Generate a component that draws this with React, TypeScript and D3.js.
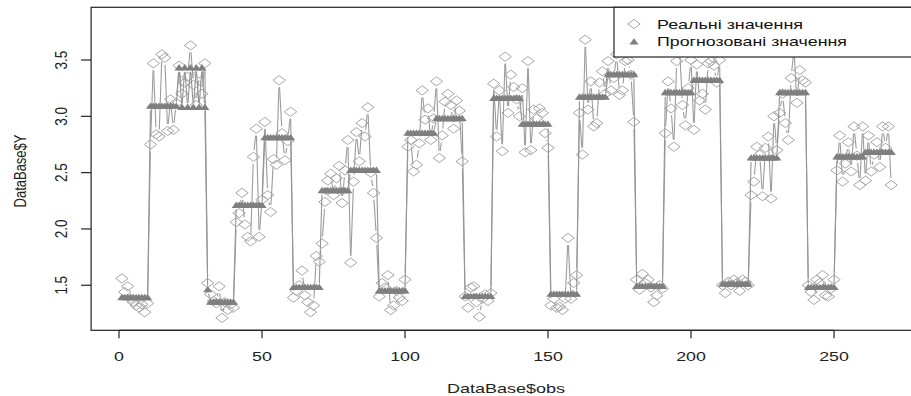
import React from "react";
import * as d3 from "d3";

// Observed values (DataBase$Y), 27 groups of 10 observations
const realValues: number[] = [
  1.56, 1.44, 1.49, 1.38, 1.35, 1.32, 1.30, 1.33, 1.26, 1.34,
  2.75, 3.47, 2.84, 2.82, 3.55, 3.52, 2.87, 3.15, 2.88, 3.12,
  3.45, 3.20, 3.30, 3.35, 3.63, 3.28, 3.10, 3.38, 3.20, 3.47,
  1.52, 1.42, 1.36, 1.34, 1.49, 1.21, 1.35, 1.28, 1.33, 1.30,
  2.06, 2.14, 2.32, 2.04, 1.93, 1.89, 2.64, 2.89, 1.93, 2.26,
  2.95, 2.30, 2.15, 2.62, 2.57, 3.32, 2.85, 2.61, 2.78, 3.04,
  1.39, 1.45, 1.50, 1.63, 1.41, 1.35, 1.26, 1.32, 1.76, 1.71,
  1.87, 2.24, 2.43, 2.49, 2.30, 2.45, 2.56, 2.23, 2.52, 2.79,
  1.70, 2.42, 2.86, 2.60, 2.94, 2.82, 3.08, 2.50, 2.32, 1.92,
  1.40, 1.52, 1.48, 1.59, 1.28, 1.32, 1.45, 1.39, 1.36, 1.55,
  2.73, 2.79, 2.51, 2.57, 2.76, 3.23, 2.97, 3.07, 2.79, 2.98,
  3.31, 2.63, 2.83, 3.13, 3.20, 3.10, 2.89, 3.14, 3.05, 2.60,
  1.40, 1.30, 1.48, 1.49, 1.35, 1.22, 1.38, 1.42, 1.36, 1.43,
  3.29, 2.82, 3.23, 2.69, 3.53, 3.03, 3.37, 3.26, 3.15, 3.00,
  3.25, 2.68, 3.49, 2.70, 3.06, 2.98, 3.07, 3.03, 2.85, 2.72,
  1.32, 1.38, 1.30, 1.31, 1.28, 1.38, 1.92, 1.38, 1.52, 1.59,
  3.03, 2.66, 3.68, 3.06, 3.31, 2.91, 2.94, 3.30, 3.40, 3.20,
  3.49, 3.23, 3.34, 3.55, 3.19, 3.23, 3.49, 3.50, 3.37, 2.95,
  1.55, 1.46, 1.60, 1.52, 1.55, 1.48, 1.35, 1.41, 1.50, 1.47,
  2.85, 3.31, 3.07, 2.73, 3.49, 3.60, 3.10, 2.92, 3.25, 3.50,
  2.88, 3.46, 3.14, 3.20, 3.06, 3.47, 3.49, 3.45, 3.30, 3.50,
  1.50, 1.43, 1.53, 1.50, 1.55, 1.52, 1.45, 1.55, 1.53, 1.50,
  2.30, 2.42, 2.73, 2.66, 2.29, 2.72, 2.82, 2.27, 3.00, 2.70,
  3.03, 3.20, 2.94, 2.79, 3.34, 3.60, 3.12, 3.41, 3.32, 3.30,
  1.50, 1.44, 1.37, 1.55, 1.52, 1.59, 1.41, 1.40, 1.47, 1.55,
  2.52, 2.83, 2.42, 2.58, 2.77, 2.51, 2.91, 2.65, 2.39, 2.91,
  2.43, 2.83, 2.51, 2.66, 2.77, 2.55, 2.91, 2.72, 2.91, 2.39,
];

// Predicted values
const predictedValues: number[] = [
  1.39, 1.39, 1.39, 1.39, 1.39, 1.39, 1.39, 1.39, 1.39, 1.39,
  3.09, 3.09, 3.09, 3.09, 3.09, 3.09, 3.09, 3.09, 3.09, 3.09,
  3.43, 3.08, 3.43, 3.08, 3.43, 3.08, 3.43, 3.08, 3.43, 3.08,
  1.46, 1.35, 1.35, 1.35, 1.35, 1.35, 1.35, 1.35, 1.35, 1.35,
  2.21, 2.21, 2.21, 2.21, 2.21, 2.21, 2.21, 2.21, 2.21, 2.21,
  2.81, 2.81, 2.81, 2.81, 2.81, 2.81, 2.81, 2.81, 2.81, 2.81,
  1.48, 1.48, 1.48, 1.48, 1.48, 1.48, 1.48, 1.48, 1.48, 1.48,
  2.34, 2.34, 2.34, 2.34, 2.34, 2.34, 2.34, 2.34, 2.34, 2.34,
  2.52, 2.52, 2.52, 2.52, 2.52, 2.52, 2.52, 2.52, 2.52, 2.52,
  1.45, 1.45, 1.45, 1.45, 1.45, 1.45, 1.45, 1.45, 1.45, 1.45,
  2.85, 2.85, 2.85, 2.85, 2.85, 2.85, 2.85, 2.85, 2.85, 2.85,
  2.98, 2.98, 2.98, 2.98, 2.98, 2.98, 2.98, 2.98, 2.98, 2.98,
  1.40, 1.40, 1.40, 1.40, 1.40, 1.40, 1.40, 1.40, 1.40, 1.40,
  3.16, 3.16, 3.16, 3.16, 3.16, 3.16, 3.16, 3.16, 3.16, 3.16,
  2.93, 2.93, 2.93, 2.93, 2.93, 2.93, 2.93, 2.93, 2.93, 2.93,
  1.42, 1.42, 1.42, 1.42, 1.42, 1.42, 1.42, 1.42, 1.42, 1.42,
  3.17, 3.17, 3.17, 3.17, 3.17, 3.17, 3.17, 3.17, 3.17, 3.17,
  3.37, 3.37, 3.37, 3.37, 3.37, 3.37, 3.37, 3.37, 3.37, 3.37,
  1.49, 1.49, 1.49, 1.49, 1.49, 1.49, 1.49, 1.49, 1.49, 1.49,
  3.21, 3.21, 3.21, 3.21, 3.21, 3.21, 3.21, 3.21, 3.21, 3.21,
  3.32, 3.32, 3.32, 3.32, 3.32, 3.32, 3.32, 3.32, 3.32, 3.32,
  1.51, 1.51, 1.51, 1.51, 1.51, 1.51, 1.51, 1.51, 1.51, 1.51,
  2.63, 2.63, 2.63, 2.63, 2.63, 2.63, 2.63, 2.63, 2.63, 2.63,
  3.21, 3.21, 3.21, 3.21, 3.21, 3.21, 3.21, 3.21, 3.21, 3.21,
  1.48, 1.48, 1.48, 1.48, 1.48, 1.48, 1.48, 1.48, 1.48, 1.48,
  2.64, 2.64, 2.64, 2.64, 2.64, 2.64, 2.64, 2.64, 2.64, 2.64,
  2.68, 2.68, 2.68, 2.68, 2.68, 2.68, 2.68, 2.68, 2.68, 2.68,
];

const xTicks: number[] = [0, 50, 100, 150, 200, 250];
const yTicks: number[] = [1.5, 2.0, 2.5, 3.0, 3.5];
const legendLabels: string[] = ["Реальні значення", "Прогнозовані значення"];

const W = 911;
const H = 396;
const FONT = "'Liberation Sans', Arial, sans-serif";

type Seg = { x1: number; y1: number; x2: number; y2: number };

function typeBSegments(pts: [number, number][], gap: number): Seg[] {
  const out: Seg[] = [];
  for (let i = 0; i < pts.length - 1; i++) {
    const [ax, ay] = pts[i];
    const [bx, by] = pts[i + 1];
    const dx = bx - ax;
    const dy = by - ay;
    const len = Math.hypot(dx, dy);
    if (len <= 2 * gap) continue;
    const ux = dx / len;
    const uy = dy / len;
    out.push({ x1: ax + ux * gap, y1: ay + uy * gap, x2: bx - ux * gap, y2: by - uy * gap });
  }
  return out;
}

export default function App() {
  const n = realValues.length;
  const obs = d3.range(1, n + 1);
  const x = d3.scaleLinear().domain([-9.76, 280.76]).range([91.1, 922]);
  const y = d3.scaleLinear().domain([1.1, 3.968]).range([330.3, 7.3]);

  const realPts: [number, number][] = obs.map((o, i) => [x(o), y(realValues[i])]);
  const predPts: [number, number][] = obs.map((o, i) => [x(o), y(predictedValues[i])]);
  const realSegs = typeBSegments(realPts, 7);
  const predSegs = typeBSegments(predPts, 4);

  const diamond = (cx: number, cy: number) =>
    `M${cx},${cy - 4.6}L${cx + 6.2},${cy}L${cx},${cy + 4.6}L${cx - 6.2},${cy}Z`;
  const tri = (cx: number, cy: number) =>
    `M${cx},${cy - 3.8}L${cx + 4.6},${cy + 2.6}L${cx - 4.6},${cy + 2.6}Z`;

  const plotL = x(-9.76);
  const plotR = x(280.76);
  const plotT = y(3.968);
  const plotB = y(1.1);

  return (
    <svg
      width={W}
      height={H}
      style={{ position: "absolute", left: 0, top: 0, background: "#fff" }}
      fontFamily={FONT}
    >
      <rect x={0} y={0} width={W} height={H} fill="#fff" />
      <defs>
        <clipPath id="plotclip">
          <rect x={plotL} y={plotT} width={plotR - plotL} height={plotB - plotT} />
        </clipPath>
      </defs>

      <g clipPath="url(#plotclip)">
        {realSegs.map((s, i) => (
          <line key={"rl" + i} x1={s.x1} y1={s.y1} x2={s.x2} y2={s.y2} stroke="#9c9c9c" strokeWidth={1.1} />
        ))}
        {realPts.map((p, i) => (
          <path key={"rd" + i} d={diamond(p[0], p[1])} fill="none" stroke="#a6a6a6" strokeWidth={1} />
        ))}
        {predSegs.map((s, i) => (
          <line key={"pl" + i} x1={s.x1} y1={s.y1} x2={s.x2} y2={s.y2} stroke="#959595" strokeWidth={1.1} />
        ))}
        {predPts.map((p, i) => (
          <path key={"pt" + i} d={tri(p[0], p[1])} fill="#7f7f7f" stroke="none" />
        ))}
      </g>

      {/* box */}
      <rect x={plotL} y={plotT} width={plotR - plotL} height={plotB - plotT} fill="none" stroke="#222" strokeWidth={1.2} />

      {/* x axis */}
      <line x1={x(0)} x2={x(250)} y1={plotB} y2={plotB} stroke="#222" strokeWidth={1.2} />
      {xTicks.map((t) => (
        <g key={"xt" + t}>
          <line x1={x(t)} x2={x(t)} y1={plotB} y2={plotB + 8} stroke="#222" strokeWidth={1.2} />
          <text
            transform={`translate(${x(t)},${360.7}) scale(1.32,1)`}
            textAnchor="middle"
            fontSize={13.5}
            fill="#222"
          >
            {String(t)}
          </text>
        </g>
      ))}

      {/* y axis */}
      {yTicks.map((t) => (
        <g key={"yt" + t}>
          <line x1={plotL - 10} x2={plotL} y1={y(t)} y2={y(t)} stroke="#222" strokeWidth={1.2} />
          <text
            transform={`translate(${67},${y(t)}) scale(1.25,1) rotate(-90)`}
            textAnchor="middle"
            fontSize={13.5}
            fill="#222"
          >
            {t.toFixed(1)}
          </text>
        </g>
      ))}

      {/* axis titles */}
      <text x={506} y={393} textAnchor="middle" fontSize={13} fill="#222" textLength={118} lengthAdjust="spacingAndGlyphs">
        DataBase$obs
      </text>
      <text
        transform={`translate(${26},${171}) scale(1.25,1) rotate(-90)`}
        textAnchor="middle"
        fontSize={13}
        fill="#222"
      >
        DataBase$Y
      </text>

      {/* legend */}
      <rect x={614} y={plotT} width={plotR - 614} height={57 - plotT} fill="#fff" stroke="#222" strokeWidth={1.2} />
      <path d={diamond(634, 24)} fill="none" stroke="#a6a6a6" strokeWidth={1} />
      <path d={tri(634, 42)} fill="#7f7f7f" />
      <text x={657} y={29} fontSize={13} fill="#111" textLength={146} lengthAdjust="spacingAndGlyphs">
        {legendLabels[0]}
      </text>
      <text x={657} y={46} fontSize={13} fill="#111" textLength={190} lengthAdjust="spacingAndGlyphs">
        {legendLabels[1]}
      </text>
    </svg>
  );
}
